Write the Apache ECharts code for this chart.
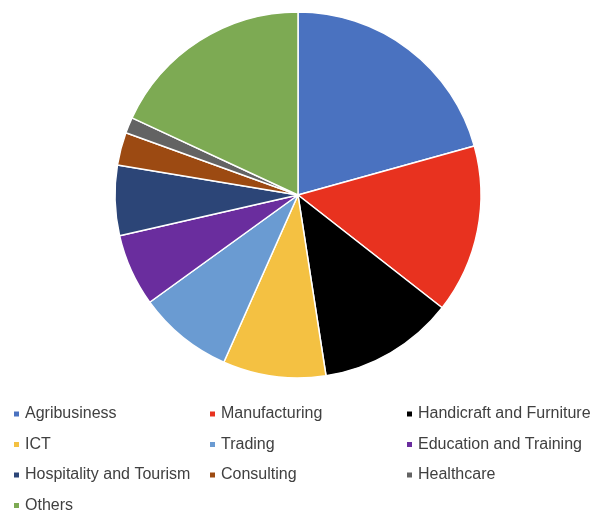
<!DOCTYPE html>
<html>
<head>
<meta charset="utf-8">
<script src="https://cdn.jsdelivr.net/npm/echarts@6/dist/echarts.min.js"></script>
<style>
  html, body { margin: 0; padding: 0; background: #fff; }
  #chart { width: 594px; height: 515px; }
</style>
</head>
<body>
<div id="chart"></div>
<script>
// sectors and their shares (%)
const sectors = ['Agribusiness', 'Manufacturing', 'Handicraft and Furniture', 'ICT', 'Trading',
    'Education and Training', 'Hospitality and Tourism', 'Consulting', 'Healthcare', 'Others'];
const shares = [20.7, 14.9, 12.0, 9.1, 8.4, 6.4, 6.2, 2.9, 1.4, 18.1];
const colors = ['#4A72C0', '#E8321F', '#000000', '#F4C142', '#6A9BD2',
    '#6A2D9E', '#2C4577', '#9C4A12', '#636363', '#7DAA53'];

// legend columns
const col1 = ['Agribusiness', 'ICT', 'Hospitality and Tourism', 'Others'];
const col2 = ['Manufacturing', 'Trading', 'Consulting'];
const col3 = ['Handicraft and Furniture', 'Education and Training', 'Healthcare'];

let chart = echarts.init(document.getElementById('chart'));

function legendCol(data, left) {
    return {
        data: data,
        orient: 'vertical',
        left: left,
        top: 406,
        height: 109,
        padding: 0,
        icon: 'rect',
        itemWidth: 7,
        itemHeight: 7,
        itemGap: 14.5,
        selectedMode: false,
        textStyle: {
            fontFamily: 'Liberation Sans',
            fontSize: 16,
            lineHeight: 16,
            color: '#404040'
        }
    };
}

const option = {
    animation: false,
    color: colors,
    legend: [
        legendCol(col1, 12),
        legendCol(col2, 208),
        legendCol(col3, 405)
    ],
    series: [
        {
            type: 'pie',
            center: [298, 195],
            radius: 183,
            startAngle: 90,
            clockwise: true,
            label: { show: false },
            labelLine: { show: false },
            itemStyle: { borderColor: '#fff', borderWidth: 1.5 },
            emphasis: { disabled: true },
            data: sectors.map(function (s, i) {
                return { name: s, value: shares[i] };
            })
        }
    ]
};

chart.setOption(option);
</script>
</body>
</html>
